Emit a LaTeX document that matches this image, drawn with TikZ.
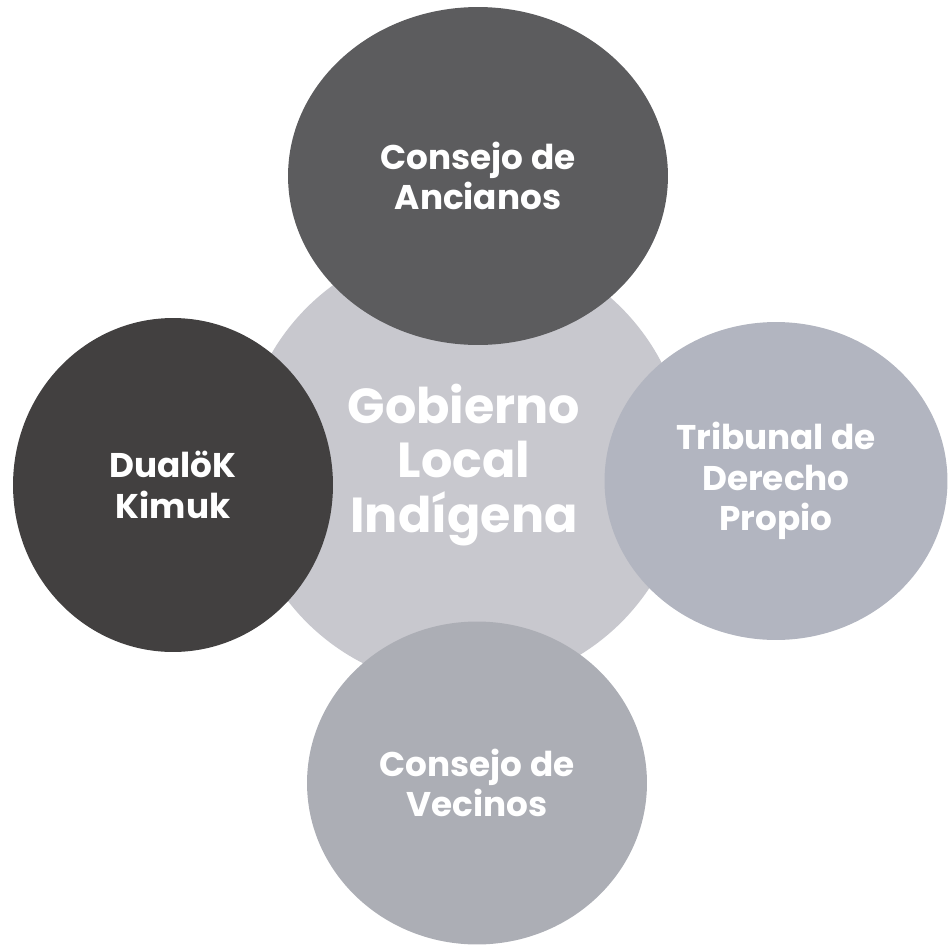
\documentclass[tikz,border=0pt]{standalone}
\usepackage{fontspec}
\setmainfont{Poppins}
\usetikzlibrary{shapes.geometric}
\definecolor{hubgray}{RGB}{200,200,206}
\definecolor{eldergray}{RGB}{92,92,94}
\definecolor{dualokgray}{RGB}{66,64,64}
\definecolor{tribunalgray}{RGB}{178,181,192}
\definecolor{vecinosgray}{RGB}{172,174,181}
\tikzset{
    council/.style={ellipse,inner sep=0pt,text=white,align=center,
        font=\bfseries\fontsize{19.5}{23}\selectfont},
    hub/.style={circle,inner sep=0pt,minimum size=8.9cm,fill=hubgray,
        text=white,align=center,font=\bfseries\fontsize{28}{31}\selectfont}
}
\begin{document}
\begin{tikzpicture}[x=0.02cm,y=-0.02cm]
        \useasboundingbox (0,0) rectangle (948,947);
        %% centre
        \node[hub] (gobierno) at (464,465) {Gobierno\\Local\\Indígena};
        %% councils round it
        \node[council,fill=eldergray,minimum width=7.6cm,minimum height=6.76cm]
            (ancianos) at (478,176) {Consejo de\\Ancianos};
        \node[council,fill=dualokgray,minimum width=6.4cm,minimum height=6.68cm]
            (dualok) at (173,485) {DualöK\\Kimuk};
        \node[council,fill=tribunalgray,minimum width=6.86cm,minimum height=6.36cm]
            (tribunal) at (776,481) {Tribunal de\\Derecho\\Propio};
        \node[council,fill=vecinosgray,minimum width=6.8cm,minimum height=6.46cm]
            (vecinos) at (477,783) {Consejo de\\Vecinos};
    \end{tikzpicture}
\end{document}
